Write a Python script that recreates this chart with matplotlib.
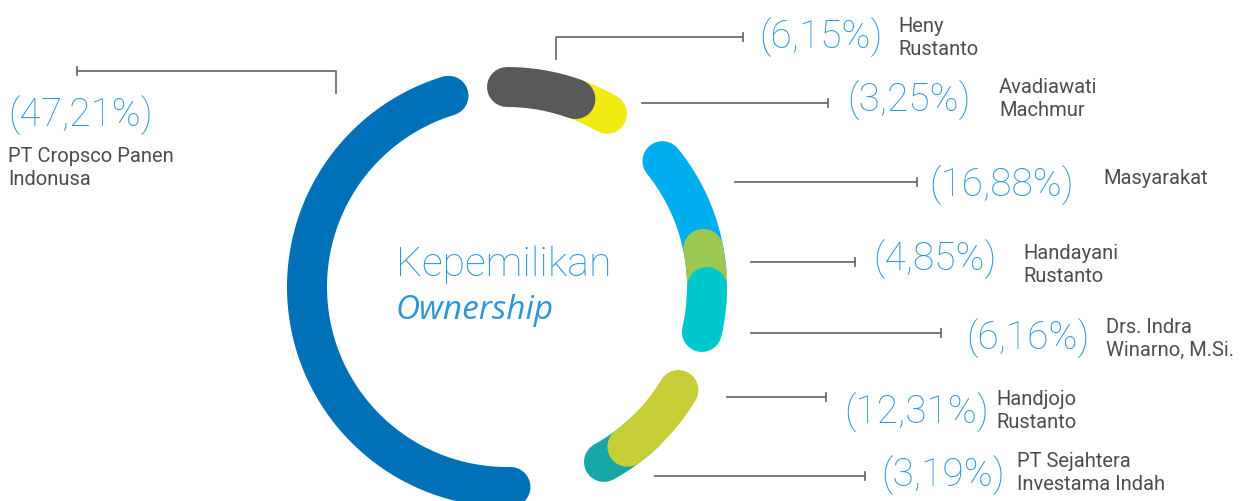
import numpy as np
import matplotlib.pyplot as plt

# shareholders and their stakes (%)
names = [
    "PT Cropsco Panen\nIndonusa",
    "Avadiawati\nMachmur",
    "Heny\nRustanto",
    "Masyarakat",
    "Handayani\nRustanto",
    "Drs. Indra\nWinarno, M.Si.",
    "PT Sejahtera\nInvestama Indah",
    "Handjojo\nRustanto",
]
shares = [47.21, 3.25, 6.15, 16.88, 4.85, 6.16, 3.19, 12.31]
colors = ["#0070B8", "#F3EA14", "#58595B", "#00AEEF",
          "#9BC753", "#00C7CC", "#18A6A7", "#C7CD36"]

# layout: arc spans (deg, ccw from +x), drawn in list order so later arcs sit on top
arc_start = [107, 76, 90, 39, 11, 0, -46, -31]
arc_end = [271, 60, 70, 4, -4, -13, -61, -53]

# leader lines (polyline, pixels) and label anchors
leaders = [
    [(336, 94), (336, 72), (77, 72)],
    [(642, 104), (828, 104)],
    [(556, 60), (556, 38), (743, 38)],
    [(735, 183), (917, 183)],
    [(751, 263), (855, 263)],
    [(751, 334), (941, 334)],
    [(655, 477), (865, 477)],
    [(727, 398), (826, 398)],
]
pct_pos = [(8, 115), (847, 100), (759, 37), (929, 185),
           (873, 259), (966, 338), (881, 475), (844, 412)]
name_pos = [(8, 168), (999, 99), (898, 38), (1103, 179),
            (1023, 265), (1106, 339), (1017, 473), (996, 411)]

cx, cy, r = 507, 288, 200
W, H = 1259, 502

fig = plt.figure(figsize=(W / 100, H / 100), dpi=100)
ax = fig.add_axes([0, 0, 1, 1])
ax.set_xlim(0, W)
ax.set_ylim(H, 0)
ax.axis("off")

for a0, a1, c in zip(arc_start, arc_end, colors):
    t = np.radians(np.linspace(a0, a1, 200))
    ax.plot(cx + r * np.cos(t), cy - r * np.sin(t), color=c,
            lw=40 * 72 / 100, solid_capstyle="round")

line_col = "#6D6E71"
pct_col = "#2F95D5"
for pts, (px, py), (nx, ny), v, nm in zip(leaders, pct_pos, name_pos, shares, names):
    xs, ys = zip(*pts)
    ax.plot(xs, ys, color=line_col, lw=1.3)
    ex, ey = pts[-1]
    ax.plot([ex, ex], [ey - 4, ey + 4], color=line_col, lw=1.3)
    label = f"({v:.2f}%)".replace(".", ",")
    ax.text(px, py, label, color=pct_col, fontsize=28, family="Roboto",
            fontweight="light", ha="left", va="center")
    ax.text(nx, ny, nm, color="#4D4D4F", fontsize=14.5, family="Roboto",
            ha="left", va="center", linespacing=1.25)

ax.text(396, 265, "Kepemilikan", color=pct_col, fontsize=29.5, family="Roboto",
        fontweight="light", ha="left", va="center")
ax.text(396, 311, "Ownership", color=pct_col, fontsize=24, family="Open Sans",
        style="italic", ha="left", va="center")

fig.savefig("out.png", dpi=100)
